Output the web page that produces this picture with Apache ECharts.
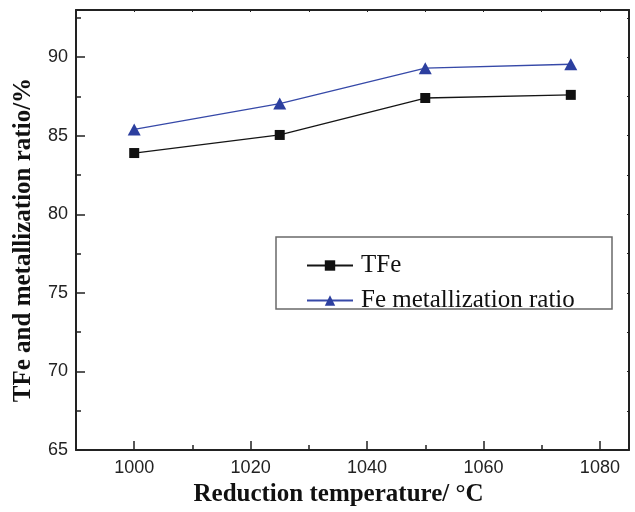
<!DOCTYPE html>
<html><head><meta charset="utf-8">
<script src="https://cdn.jsdelivr.net/npm/echarts@6/dist/echarts.min.js"></script>
<style>html,body{margin:0;padding:0;background:#fff}#c{width:635px;height:512px}</style>
</head><body><div id="c"></div>
<script>
const temperatures = [1000, 1025, 1050, 1075];
const tfe = [83.9, 85.05, 87.4, 87.6];
const feMetallization = [85.4, 87.05, 89.3, 89.55];
const xMajorTicks = [1000, 1020, 1040, 1060, 1080];
const seriesNames = ['TFe', 'Fe metallization ratio'];
const xTitle = 'Reduction temperature/ \u00B0C';
const yTitle = 'TFe and metallization ratio/%';

const axisColor = '#222';
const chart = echarts.init(document.getElementById('c'));
const pairs = (xs, ys) => xs.map((x, i) => [x, ys[i]]);

chart.setOption({
  animation: false,
  backgroundColor: '#fff',
  grid: { left: 76, right: 6, top: 10, bottom: 59 },
  graphic: [{
    type: 'rect', shape: { x: 276, y: 237, width: 336, height: 72 },
    style: { fill: 'none', stroke: '#6a6a6a', lineWidth: 1.5 }, z: 10
  }],
  legend: {
    orient: 'vertical', left: 306, top: 253, padding: 0,
    itemWidth: 46, itemHeight: 13, itemGap: 10,
    textStyle: { fontFamily: 'Liberation Serif', fontSize: 25, color: '#111', lineHeight: 25, padding: [0, 0, 0, 3] },
    data: seriesNames
  },
  xAxis: [
    {
      type: 'value', position: 'bottom', min: 990, max: 1085, interval: 10,
      axisLine: { show: true, lineStyle: { color: axisColor, width: 2 } },
      axisTick: { show: true, inside: true, length: 5, lineStyle: { color: axisColor, width: 1.5 } },
      axisLabel: { show: false }, splitLine: { show: false }
    },
    {
      type: 'value', position: 'bottom', min: 990, max: 1085,
      axisLine: { show: false },
      axisTick: { show: true, inside: true, length: 9, customValues: xMajorTicks, lineStyle: { color: axisColor, width: 1.5 } },
      axisLabel: { show: true, customValues: xMajorTicks, margin: 9, color: '#222', fontFamily: 'Liberation Sans', fontSize: 18,
        formatter: v => String(v) },
      splitLine: { show: false },
      name: xTitle, nameLocation: 'middle', nameGap: 30,
      nameTextStyle: { fontFamily: 'Liberation Serif', fontWeight: 'bold', fontSize: 25, color: '#111', padding: [0, 28, 0, 0] }
    },
    {
      type: 'value', position: 'top', min: 990, max: 1085, interval: 10,
      axisLine: { show: true, lineStyle: { color: axisColor, width: 2 } },
      axisTick: { show: true, inside: true, length: 2, lineStyle: { color: axisColor, width: 1 } },
      axisLabel: { show: false }, splitLine: { show: false }
    }
  ],
  yAxis: [
    {
      type: 'value', position: 'left', min: 65, max: 93, interval: 5,
      axisLine: { show: true, lineStyle: { color: axisColor, width: 2 } },
      axisTick: { show: true, inside: true, length: 9, lineStyle: { color: axisColor, width: 1.5 } },
      minorTick: { show: true, splitNumber: 2, length: 5, lineStyle: { color: axisColor, width: 1.5 } },
      axisLabel: { show: true, margin: 8, color: '#222', fontFamily: 'Liberation Sans', fontSize: 18,
        formatter: v => (v % 5 === 0 ? String(v) : '') },
      splitLine: { show: false },
      name: yTitle, nameLocation: 'middle', nameGap: 40,
      nameTextStyle: { fontFamily: 'Liberation Serif', fontWeight: 'bold', fontSize: 25, color: '#111', padding: [0, 20, 0, 0] }
    },
    {
      type: 'value', position: 'right', min: 65, max: 93, interval: 2.5,
      axisLine: { show: true, lineStyle: { color: axisColor, width: 2 } },
      axisTick: { show: true, inside: true, length: 2, lineStyle: { color: axisColor, width: 1 } },
      axisLabel: { show: false }, splitLine: { show: false }
    }
  ],
  series: [
    {
      name: seriesNames[0], type: 'line', xAxisIndex: 0, yAxisIndex: 0,
      data: pairs(temperatures, tfe),
      symbol: 'rect', symbolSize: 10,
      lineStyle: { color: '#151515', width: 1.3 },
      itemStyle: { color: '#111', borderWidth: 0 }
    },
    {
      name: seriesNames[1], type: 'line', xAxisIndex: 0, yAxisIndex: 0,
      data: pairs(temperatures, feMetallization),
      symbol: 'triangle', symbolSize: [13, 12],
      lineStyle: { color: '#3649a8', width: 1.3 },
      itemStyle: { color: '#2c3f9f', borderWidth: 0 }
    }
  ]
});
</script></body></html>
